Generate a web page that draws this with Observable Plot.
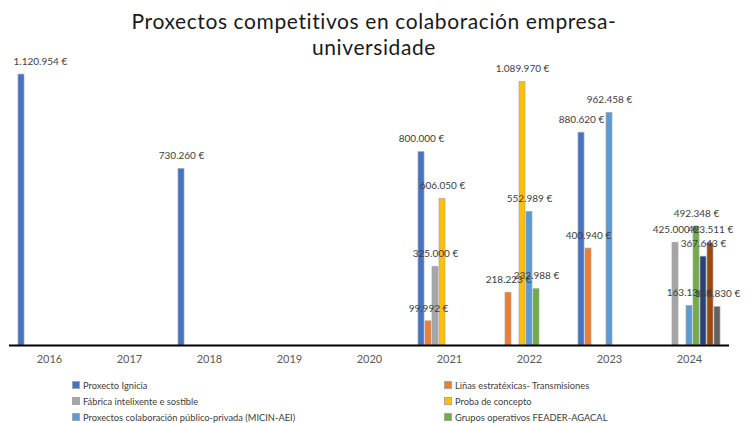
<!DOCTYPE html>
<html>
<head>
<meta charset="utf-8">
<script src="https://cdn.jsdelivr.net/npm/d3@7"></script>
<script src="https://cdn.jsdelivr.net/npm/@observablehq/plot@0.6"></script>
<style>
  html, body { margin: 0; padding: 0; background: #fff; }
  #wrap { position: relative; width: 748px; height: 423px; overflow: hidden; font-family: Lato, "Open Sans", sans-serif; }
  #title { position: absolute; left: 0; top: 8px; width: 748px; text-align: center; font-family: Lato, "Open Sans", sans-serif; font-size: 21px; line-height: 26px; letter-spacing: 0.6px; color: #1a1a1a; z-index: 2; }
  #chart { position: absolute; left: 0; top: 0; }
  #legend { position: absolute; left: 0; top: 372px; width: 748px; height: 51px; font-size: 9.3px; color: #404040; }
  .li { position: absolute; display: flex; align-items: center; height: 14px; white-space: nowrap; }
  .sw { width: 6px; height: 6px; margin-right: 3px; border: 0.5px solid #a6a6a6; }
</style>
</head>
<body>
<div id="wrap">
  <div id="chart"></div>
  <div id="title">Proxectos competitivos en colaboración empresa-<br>universidade</div>
  <div id="legend"></div>
</div>
<script>
const years = ["2016", "2017", "2018", "2019", "2020", "2021", "2022", "2023", "2024"];
const seriesNames = [
  "Proxecto Ignicia",
  "Liñas estratéxicas- Transmisiones",
  "Fábrica intelixente e sostible",
  "Proba de concepto",
  "Proxectos colaboración público-privada (MICIN-AEI)",
  "Grupos operativos FEADER-AGACAL",
  "Serie 7",
  "Serie 8",
  "Serie 9"
];
const seriesColors = ["#4472C4", "#ED7D31", "#A5A5A5", "#FFC000", "#5B9BD5", "#70AD47", "#264478", "#9E480E", "#636363"];
const legendNames = seriesNames.slice(0, 6);

const ignicia  = [1120954, null, 730260, null, null, 800000, null, 880620, null];
const linhas   = [null, null, null, null, null, 99992, 218223, 400940, null];
const fabrica  = [null, null, null, null, null, 325000, null, null, 425000];
const proba    = [null, null, null, null, null, 606050, 1089970, null, null];
const micin    = [null, null, null, null, null, null, 552989, 962458, 163136];
const feader   = [null, null, null, null, null, null, 232988, null, 492348];
const serie7   = [null, null, null, null, null, null, null, null, 367643];
const serie8   = [null, null, null, null, null, null, null, null, 423511];
const serie9   = [null, null, null, null, null, null, null, null, 158830];

const seriesValues = [ignicia, linhas, fabrica, proba, micin, feader, serie7, serie8, serie9];

const rows = [];
seriesValues.forEach((vals, si) => {
  vals.forEach((v, yi) => {
    if (v != null) rows.push({ year: years[yi], series: seriesNames[si], value: v });
  });
});

const fmt = v => d3.format(",")(v).replace(/,/g, ".") + " €";
const firstRow = rows.find(r => r.year === years[0]);
const otherRows = rows.filter(r => r !== firstRow);

const chart = Plot.plot({
  width: 748,
  height: 372,
  marginLeft: 8,
  marginRight: 18,
  marginTop: 55,
  marginBottom: 27,
  style: { fontFamily: "Lato, 'Open Sans', sans-serif", background: "transparent", overflow: "visible" },
  fx: { domain: years, padding: 0, label: null, axis: null },
  x: { domain: seriesNames, axis: null, paddingInner: 0.2, paddingOuter: 0.95 },
  y: { domain: [0, 1200000], axis: null },
  color: { domain: seriesNames, range: seriesColors },
  marks: [
    Plot.barY(rows, { fx: "year", x: "series", y: "value", fill: "series", stroke: "#a6a6a6", strokeWidth: 0.7 }),
    Plot.ruleY(years, { fx: d => d, y: () => 0, stroke: "#000", strokeWidth: 2 }),
    Plot.text(otherRows, { fx: "year", x: "series", y: "value", text: d => fmt(d.value), dy: -13, fontSize: 10, fill: "#404040" }),
    Plot.text([firstRow], { fx: "year", x: "series", y: "value", text: d => fmt(d.value), dy: -13, dx: -8, textAnchor: "start", fontSize: 10, fill: "#404040" }),
    Plot.axisFx({ anchor: "bottom", tickSize: 0, tickPadding: 10, fontSize: 11, fill: "#595959", label: null })
  ]
});
document.getElementById("chart").appendChild(chart);

const legend = document.getElementById("legend");
const cols = [72, 444];
legendNames.forEach((name, i) => {
  const col = i % 2, row = Math.floor(i / 2);
  const el = document.createElement("div");
  el.className = "li";
  el.style.left = cols[col] + "px";
  el.style.top = (6 + row * 16) + "px";
  const sw = document.createElement("span");
  sw.className = "sw";
  sw.style.background = seriesColors[i];
  const t = document.createElement("span");
  t.textContent = name;
  el.appendChild(sw);
  el.appendChild(t);
  legend.appendChild(el);
});
</script>
</body>
</html>
